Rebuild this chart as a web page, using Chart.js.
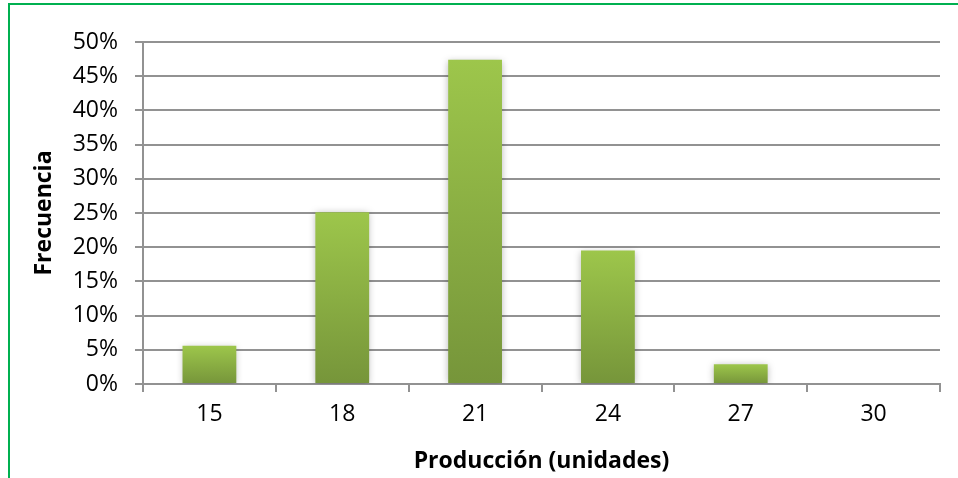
<!DOCTYPE html>
<html>
<head>
<meta charset="utf-8">
<script src="https://cdn.jsdelivr.net/npm/chart.js@4"></script>
<style>
html,body{margin:0;padding:0;background:#fff;}
#wrap{position:relative;width:958px;height:478px;overflow:hidden;}
#frame{position:absolute;left:8px;top:3px;width:1000px;height:1000px;border-left:2px solid #00b050;border-top:2px solid #00b050;pointer-events:none;}
canvas{position:absolute;left:0;top:0;}
</style>
</head>
<body>
<div id="wrap">
<canvas id="c" width="958" height="478"></canvas>
<div id="frame"></div>
</div>
<script>
const categories = ['15', '18', '21', '24', '27', '30'];
const frecuencia = [0.056, 0.251, 0.474, 0.195, 0.029, 0];
const xTitle = 'Producción (unidades)';
const yTitle = 'Frecuencia';

const FONT = '"Open Sans"';
const GRID = '#929292';

function barGradient(ctx) {
  const chart = ctx.chart;
  const y = chart.scales && chart.scales.y;
  if (!y || ctx.dataIndex === undefined) return '#8db043';
  const v = ctx.raw || 0;
  const top = y.getPixelForValue(v);
  const bot = y.getPixelForValue(0);
  if (!isFinite(top) || !isFinite(bot) || bot - top < 1) return '#8db043';
  const g = chart.ctx.createLinearGradient(0, top, 0, bot);
  g.addColorStop(0, '#9dc64b');
  g.addColorStop(1, '#76953a');
  return g;
}

const shadowPlugin = {
  id: 'shadow',
  beforeDatasetsDraw(chart) {
    const c = chart.ctx;
    c.save();
    c.shadowColor = 'rgba(0,0,0,0.28)';
    c.shadowBlur = 7;
    c.shadowOffsetX = 0;
    c.shadowOffsetY = 1;
  },
  afterDatasetsDraw(chart) {
    chart.ctx.restore();
  }
};

new Chart(document.getElementById('c'), {
  type: 'bar',
  data: {
    labels: categories,
    datasets: [{
      data: frecuencia,
      backgroundColor: barGradient,
      borderWidth: 0,
      barPercentage: 0.405,
      categoryPercentage: 1
    }]
  },
  options: {
    responsive: false,
    devicePixelRatio: 1,
    animation: false,
    layout: { padding: { left: 0, right: 18, top: 42, bottom: 0 } },
    plugins: { legend: { display: false }, tooltip: { enabled: false } },
    scales: {
      x: {
        grid: { display: true, drawOnChartArea: false, drawTicks: true, tickLength: 8, color: GRID, lineWidth: 2, offset: true },
        border: { display: true, color: GRID, width: 2 },
        ticks: { color: '#000', font: { family: FONT, size: 23 }, padding: 9, maxRotation: 0 },
        title: { display: true, text: xTitle, color: '#000', font: { family: FONT, size: 23, weight: 'bold' }, padding: { top: 0, bottom: 3 } },
        afterFit(s) { s.height = 94; }
      },
      y: {
        min: 0, max: 0.5,
        grid: { color: GRID, lineWidth: 2, tickLength: 8, drawTicks: true },
        border: { display: true, color: GRID, width: 2 },
        ticks: { stepSize: 0.05, color: '#000', font: { family: FONT, size: 23 }, padding: 17,
          callback: v => Math.round(v * 100) + '%' },
        title: { display: true, text: yTitle, color: '#000', font: { family: FONT, size: 23, weight: 'bold' }, padding: { top: 31, bottom: 0 } },
        afterFit(s) { s.width = 143; }
      }
    }
  },
  plugins: [shadowPlugin]
});
</script>
</body>
</html>
